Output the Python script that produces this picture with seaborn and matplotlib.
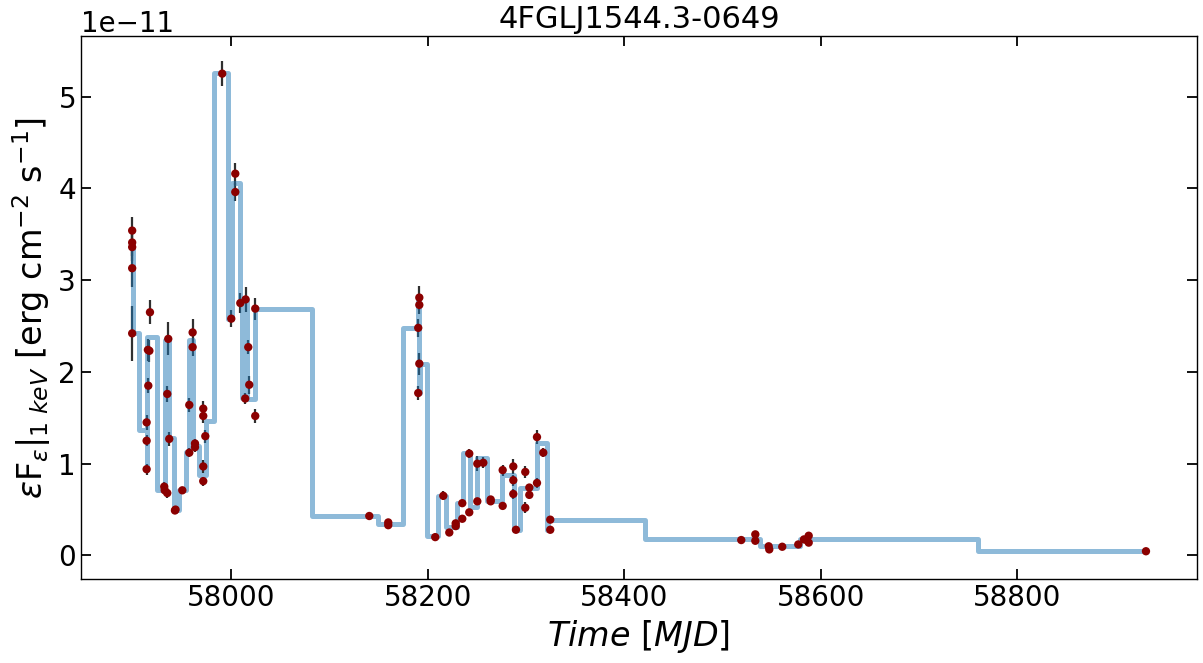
import numpy as np
import pandas as pd
import matplotlib
matplotlib.use('Agg')
import matplotlib.pyplot as plt
import seaborn as sns

# Light curve points: time (MJD), flux (units of 1e-11 erg cm-2 s-1), error
t_pts = [57899.5, 57899.5, 57899.5, 57899.5, 57899.5,
         57917.6, 57915.5, 57917.0, 57915.9, 57914.2, 57914.2, 57914.2,
         57936.2, 57935.2, 57937.2, 57932.1, 57932.6, 57935.2,
         57943.0, 57943.6, 57950.5, 57957.6, 57957.6, 57961.0, 57961.0,
         57963.4, 57963.4, 57971.8, 57971.8, 57973.9, 57971.8, 57971.8,
         57991.1, 58004.4, 58004.4, 58000.3, 58009.5, 58014.9, 58017.6,
         58018.6, 58014.5, 58024.7, 58024.7,
         58140.7, 58160.0, 58160.0,
         58191.6, 58191.6, 58190.5, 58191.6, 58190.5,
         58207.8, 58216.0, 58222.1, 58228.6, 58228.6, 58235.3, 58235.3,
         58242.4, 58242.4, 58250.6, 58250.6, 58256.7, 58264.2, 58264.2,
         58276.4, 58276.4, 58287.2, 58287.2, 58287.2, 58289.9, 58299.4,
         58299.4, 58303.5, 58303.5, 58311.3, 58311.3, 58317.7, 58324.8,
         58324.8,
         58519.1, 58533.4, 58533.4, 58547.0, 58547.6, 58560.8, 58577.1,
         58582.9, 58587.7, 58587.7, 58585.6,
         58930.8]
f_pts = [3.54, 3.41, 3.36, 3.13, 2.42,
         2.65, 2.24, 2.23, 1.85, 1.45, 1.25, 0.94,
         2.36, 1.76, 1.27, 0.75, 0.71, 0.68,
         0.49, 0.50, 0.71, 1.12, 1.64, 2.43, 2.27,
         1.22, 1.18, 1.60, 1.52, 1.30, 0.97, 0.81,
         5.25, 4.16, 3.96, 2.58, 2.75, 2.79, 2.27,
         1.86, 1.71, 2.69, 1.52,
         0.43, 0.33, 0.36,
         2.81, 2.73, 2.48, 2.09, 1.77,
         0.20, 0.65, 0.25, 0.35, 0.32, 0.40, 0.57,
         0.47, 1.11, 0.59, 1.00, 1.01, 0.61, 0.59,
         0.54, 0.93, 0.97, 0.82, 0.67, 0.28, 0.91,
         0.52, 0.74, 0.66, 1.29, 0.79, 1.12, 0.39,
         0.28,
         0.168, 0.23, 0.16, 0.10, 0.066, 0.095, 0.12,
         0.175, 0.215, 0.14, 0.17,
         0.046]
e_pts = [0.15, 0.15, 0.15, 0.20, 0.30,
         0.13, 0.12, 0.12, 0.08, 0.08, 0.06, 0.06,
         0.18, 0.09, 0.08, 0.05, 0.05, 0.05,
         0.04, 0.04, 0.03, 0.05, 0.08, 0.15, 0.10,
         0.05, 0.05, 0.08, 0.08, 0.07, 0.07, 0.05,
         0.14, 0.12, 0.10, 0.09, 0.11, 0.14, 0.08,
         0.10, 0.06, 0.12, 0.08,
         0.02, 0.03, 0.03,
         0.13, 0.10, 0.10, 0.12, 0.08,
         0.02, 0.05, 0.02, 0.03, 0.03, 0.03, 0.03,
         0.02, 0.05, 0.03, 0.08, 0.06, 0.03, 0.03,
         0.03, 0.06, 0.08, 0.06, 0.05, 0.03, 0.07,
         0.06, 0.03, 0.03, 0.08, 0.05, 0.05, 0.03,
         0.02,
         0.015, 0.02, 0.02, 0.015, 0.015, 0.015, 0.015,
         0.02, 0.02, 0.02, 0.02,
         0.02]

# Bayesian blocks: left edges and block flux
block_edges = [57899.0, 57900.5, 57906.7, 57914.2, 57915.0, 57924.6, 57933.3,
               57937.2, 57941.7, 57947.1, 57954.2, 57957.6, 57961.3, 57967.8,
               57974.6, 57982.7, 57996.6, 58001.3, 58009.2, 58011.5, 58014.0,
               58016.5, 58024.8, 58082.5, 58149.8, 58175.3, 58190.5, 58191.5,
               58192.5, 58199.7, 58210.9, 58218.7, 58230.2, 58236.0, 58242.8,
               58250.3, 58260.1, 58275.4, 58287.9, 58294.0, 58311.0, 58321.2,
               58323.0, 58421.2, 58538.1, 58578.8, 58760.2]
block_flux = [3.40, 2.42, 1.37, 0.93, 2.38, 0.71, 2.35,
              1.28, 0.49, 0.71, 1.13, 2.35, 1.19, 0.88,
              1.47, 5.26, 2.58, 4.06, 2.76, 1.72, 2.78,
              1.70, 2.69, 0.43, 0.34, 2.48, 2.79, 1.77,
              2.09, 0.21, 0.65, 0.31, 0.57, 1.12, 0.53,
              1.06, 0.59, 0.88, 0.28, 0.73, 1.22, 0.28,
              0.386, 0.175, 0.10, 0.175, 0.048]
t_end = 58930.8

sns.set_style('ticks')
plt.rcParams['font.family'] = ['DejaVu Sans']
plt.rcParams['text.color'] = 'black'
plt.rcParams['axes.labelcolor'] = 'black'
plt.rcParams['xtick.color'] = 'black'
plt.rcParams['ytick.color'] = 'black'

scale = 1e-11
df = pd.DataFrame({'t': t_pts,
                   'flux': np.array(f_pts) * scale,
                   'err': np.array(e_pts) * scale})
steps = pd.DataFrame({'t': block_edges + [t_end],
                      'flux': np.array(block_flux + [block_flux[-1]]) * scale})

fig, ax = plt.subplots(figsize=(12.03, 6.63), dpi=100)
fig.subplots_adjust(left=0.0673, right=0.995, top=0.9457, bottom=0.1262)

ax.errorbar(df['t'], df['flux'], yerr=df['err'], fmt='none',
            ecolor='#303030', elinewidth=1.6, zorder=1)
sns.lineplot(data=steps, x='t', y='flux', drawstyle='steps-post',
             color='tab:blue', alpha=0.5, lw=3.6, ax=ax, zorder=2,
             solid_joinstyle='round', solid_capstyle='round')
sns.scatterplot(data=df, x='t', y='flux', color='darkred', s=36,
                edgecolor='none', ax=ax, zorder=3)

ax.set_xlim(57847.4, 58982.7)
ax.set_ylim(-0.26e-11, 5.66e-11)
ax.set_xticks([58000, 58200, 58400, 58600, 58800])
ax.set_yticks(np.arange(0, 6) * scale)
ax.tick_params(direction='in', top=True, right=True, length=7, width=1.3,
               labelsize=20, colors='black')
ax.yaxis.get_offset_text().set_fontsize(20)
ax.yaxis.get_offset_text().set_color('black')
for s in ax.spines.values():
    s.set_color('black')
    s.set_linewidth(1.0)

ax.set_title('4FGLJ1544.3-0649', fontsize=22, color='black')
ax.set_xlabel(r'$Time\ [MJD]$', fontsize=24)
ax.set_ylabel(r'$\varepsilon$F$_\varepsilon|_{1\ keV}$ [erg cm$^{-2}$ s$^{-1}$]',
              fontsize=24)

fig.savefig('out.png', dpi=100)
